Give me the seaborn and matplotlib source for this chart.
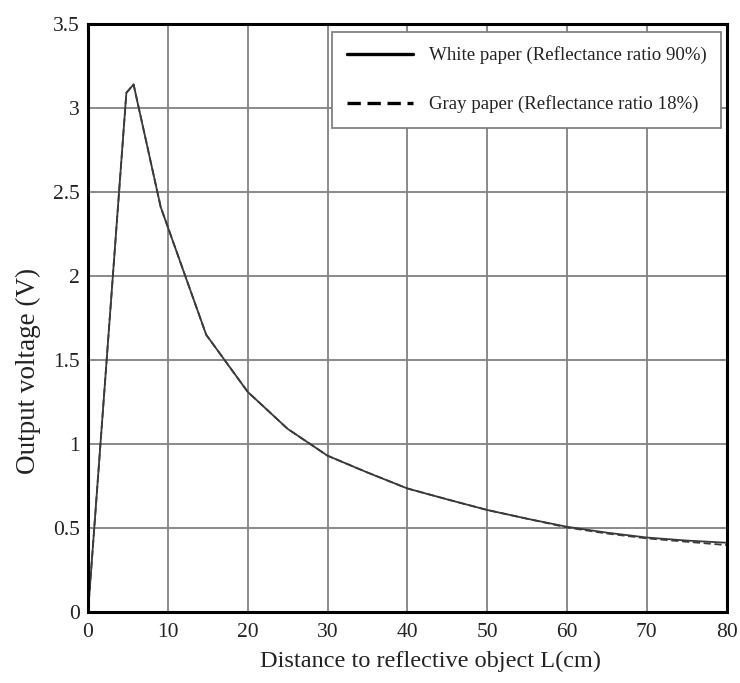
import matplotlib
matplotlib.use('Agg')
import matplotlib.pyplot as plt
import pandas as pd
import seaborn as sns

sns.set_style('white')
plt.rcParams['font.family'] = ['Liberation Serif', 'DejaVu Serif']

# distance to reflective object (cm)
distance = [0, 4.8, 5.7, 9.1, 14.8, 20, 25, 30, 35, 40, 45, 50, 55, 60, 65, 70, 75, 80]
# output voltage (V)
white_paper = [0.0, 3.09, 3.14, 2.41, 1.65, 1.31, 1.09, 0.93, 0.83, 0.735, 0.67, 0.607,
               0.555, 0.507, 0.472, 0.443, 0.425, 0.412]
gray_paper = [0.0, 3.09, 3.14, 2.41, 1.65, 1.31, 1.09, 0.93, 0.83, 0.735, 0.67, 0.607,
              0.555, 0.503, 0.467, 0.438, 0.418, 0.398]

labels = ['White paper (Reflectance ratio 90%)', 'Gray paper (Reflectance ratio 18%)']

df = pd.concat([
    pd.DataFrame({'distance': distance, 'voltage': white_paper, 'paper': labels[0]}),
    pd.DataFrame({'distance': distance, 'voltage': gray_paper, 'paper': labels[1]}),
])

fig = plt.figure(figsize=(7.4, 6.83), dpi=100)
ax = fig.add_axes([0.119, 0.104, 0.863, 0.861])

sns.lineplot(data=df, x='distance', y='voltage', hue='paper', style='paper',
             palette=['#3a3a3a', '#3a3a3a'], dashes=[(None, None), (4, 2)],
             linewidth=1.3, ax=ax)

ax.set_xlim(0, 80)
ax.set_ylim(0, 3.5)
ax.set_xticks(range(0, 81, 10))
ax.set_yticks([0, 0.5, 1, 1.5, 2, 2.5, 3, 3.5])
ax.set_yticklabels(['0', '0.5', '1', '1.5', '2', '2.5', '3', '3.5'])
ax.grid(True, color='#808080', linewidth=1.3)
ax.tick_params(axis='x', labelsize=15.5, length=0, pad=8, colors='#222222')
ax.tick_params(axis='y', labelsize=15.5, length=0, pad=6, colors='#222222')
for s in ax.spines.values():
    s.set_color('black')
    s.set_linewidth(2.2)

ax.set_xlabel('Distance to reflective object L(cm)', fontsize=17.5, color='#222222')
ax.set_ylabel('Output voltage (V)', fontsize=19.5, color='#222222')
# labels in the source sit a bit off-centre
ax.xaxis.set_label_coords(0.537, -0.066)
ax.yaxis.set_label_coords(-0.074, 0.41)

handles, _ = ax.get_legend_handles_labels()
leg = ax.legend(handles=handles, labels=labels, loc='upper right', fontsize=13.6,
                frameon=True, fancybox=False, edgecolor='#777777', framealpha=1,
                handlelength=3.5, labelspacing=1.65, borderpad=0.75,
                handletextpad=0.85, borderaxespad=0, bbox_to_anchor=(0.9906, 0.986))
leg.get_frame().set_linewidth(1.2)
for line in leg.get_lines():
    line.set_linewidth(2.4)
    line.set_color('black')
for t in leg.get_texts():
    t.set_color('#222222')

fig.savefig('out.png', dpi=100)
